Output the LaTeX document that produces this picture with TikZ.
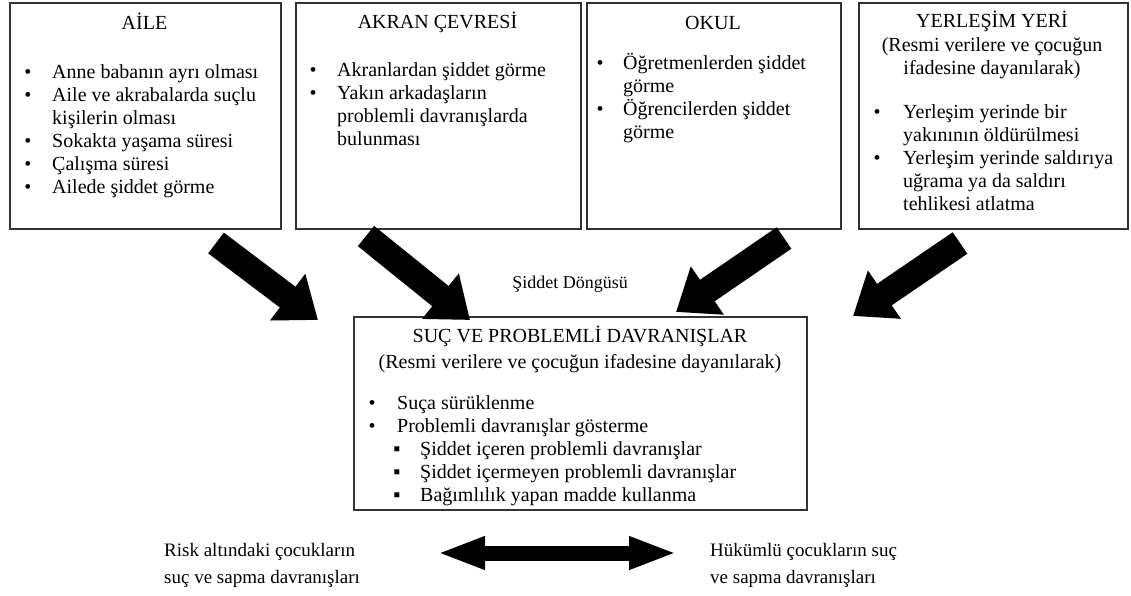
\documentclass[tikz,border=0pt]{standalone}
\usepackage{fontspec}
\setmainfont{Liberation Serif}
\usetikzlibrary{arrows.meta}
\begin{document}
\begin{tikzpicture}[
    x=1pt,
    y=-1pt,
    font=\fontsize{20}{23}\selectfont,
    kutu/.style={draw=black!80, line width=1.6pt, anchor=north west, inner sep=0pt},
    baslik/.style={anchor=base, inner sep=0pt},
    madde/.style={anchor=base, inner sep=0pt},
    satir/.style={anchor=base west, inner sep=0pt},
    kalinok/.style={line width=26pt, -{Triangle[length=38pt,width=56pt]}},
    ciftok/.style={line width=15pt, {Triangle[length=48pt,width=30pt]}-{Triangle[length=48pt,width=30pt]}}
]
\useasboundingbox (0,0) rectangle (1131,595);

% ust kutular
\node[kutu, minimum width=271pt, minimum height=226pt] (aile) at (9,2) {};
\node[kutu, minimum width=285pt, minimum height=226pt] (akran) at (295,2) {};
\node[kutu, minimum width=254pt, minimum height=226pt] (okul) at (586,2) {};
\node[kutu, minimum width=269pt, minimum height=226pt] (yerlesim) at (858,2) {};

\node[baslik] (aile-b) at (144.5,29) {AİLE};
\node[madde] (aile-m1) at (28,78) {•};
\node[satir] (aile-1) at (52,78) {Anne babanın ayrı olması};
\node[madde] (aile-m2) at (28,101) {•};
\node[satir] (aile-2) at (52,101) {Aile ve akrabalarda suçlu};
\node[satir] (aile-3) at (52,124) {kişilerin olması};
\node[madde] (aile-m3) at (28,147) {•};
\node[satir] (aile-4) at (52,147) {Sokakta yaşama süresi};
\node[madde] (aile-m4) at (28,170) {•};
\node[satir] (aile-5) at (52,170) {Çalışma süresi};
\node[madde] (aile-m5) at (28,193) {•};
\node[satir] (aile-6) at (52,193) {Ailede şiddet görme};

\node[baslik] (akran-b) at (437.5,28) {AKRAN ÇEVRESİ};
\node[madde] (akran-m1) at (313,76) {•};
\node[satir] (akran-1) at (337,76) {Akranlardan şiddet görme};
\node[madde] (akran-m2) at (313,99) {•};
\node[satir] (akran-2) at (337,99) {Yakın arkadaşların};
\node[satir] (akran-3) at (337,122) {problemli davranışlarda};
\node[satir] (akran-4) at (337,145) {bulunması};

\node[baslik] (okul-b) at (713,29) {OKUL};
\node[madde] (okul-m1) at (600,69) {•};
\node[satir] (okul-1) at (623,69) {Öğretmenlerden şiddet};
\node[satir] (okul-2) at (623,92) {görme};
\node[madde] (okul-m2) at (600,115) {•};
\node[satir] (okul-3) at (623,115) {Öğrencilerden şiddet};
\node[satir] (okul-4) at (623,138) {görme};

\node[baslik] (yer-b) at (992,27) {YERLEŞİM YERİ};
\node[baslik] (yer-b2) at (992,51) {(Resmi verilere ve çocuğun};
\node[baslik] (yer-b3) at (992,74) {ifadesine dayanılarak)};
\node[madde] (yer-m1) at (877,118) {•};
\node[satir] (yer-1) at (903,118) {Yerleşim yerinde bir};
\node[satir] (yer-2) at (903,141) {yakınının öldürülmesi};
\node[madde] (yer-m2) at (877,164) {•};
\node[satir] (yer-3) at (903,164) {Yerleşim yerinde saldırıya};
\node[satir] (yer-4) at (903,187) {uğrama ya da saldırı};
\node[satir] (yer-5) at (903,210) {tehlikesi atlatma};

% orta kutu
\node[kutu, minimum width=453pt, minimum height=193pt] (sonuc) at (353,316) {};
\node[baslik] (sonuc-b) at (580,342) {SUÇ VE PROBLEMLİ DAVRANIŞLAR};
\node[baslik] (sonuc-b2) at (580,368) {(Resmi verilere ve çocuğun ifadesine dayanılarak)};
\node[madde] (sonuc-m1) at (372,409) {•};
\node[satir] (sonuc-1) at (397,409) {Suça sürüklenme};
\node[madde] (sonuc-m2) at (372,432) {•};
\node[satir] (sonuc-2) at (397,432) {Problemli davranışlar gösterme};
\node[madde] (sonuc-k1) at (397,455) {▪};
\node[satir] (sonuc-3) at (420,455) {Şiddet içeren problemli davranışlar};
\node[madde] (sonuc-k2) at (397,478) {▪};
\node[satir] (sonuc-4) at (420,478) {Şiddet içermeyen problemli davranışlar};
\node[madde] (sonuc-k3) at (397,501) {▪};
\node[satir] (sonuc-5) at (420,501) {Bağımlılık yapan madde kullanma};

\node[baslik, font=\fontsize{18}{21}\selectfont] (dongu) at (570,288) {Şiddet Döngüsü};

% kalin oklar
\coordinate (ok1a) at (216,243);
\coordinate (ok1b) at (318,320);
\coordinate (ok2a) at (366,236);
\coordinate (ok2b) at (470,320);
\coordinate (ok3a) at (784,238);
\coordinate (ok3b) at (676,312);
\coordinate (ok4a) at (960,243);
\coordinate (ok4b) at (853,316);
\draw[kalinok] (ok1a) -- (ok1b);
\draw[kalinok] (ok2a) -- (ok2b);
\draw[kalinok] (ok3a) -- (ok3b);
\draw[kalinok] (ok4a) -- (ok4b);

% alt kisim
\node[satir, font=\fontsize{19}{22}\selectfont] (risk-1) at (164,556) {Risk altındaki çocukların};
\node[satir, font=\fontsize{19}{22}\selectfont] (risk-2) at (164,583) {suç ve sapma davranışları};
\node[satir, font=\fontsize{19}{22}\selectfont] (hukum-1) at (710,556) {Hükümlü çocukların suç};
\node[satir, font=\fontsize{19}{22}\selectfont] (hukum-2) at (710,583) {ve sapma davranışları};
\coordinate (cift-a) at (437,553);
\coordinate (cift-b) at (677,553);
\draw[ciftok] (cift-a) -- (cift-b);
\end{tikzpicture}
\end{document}
